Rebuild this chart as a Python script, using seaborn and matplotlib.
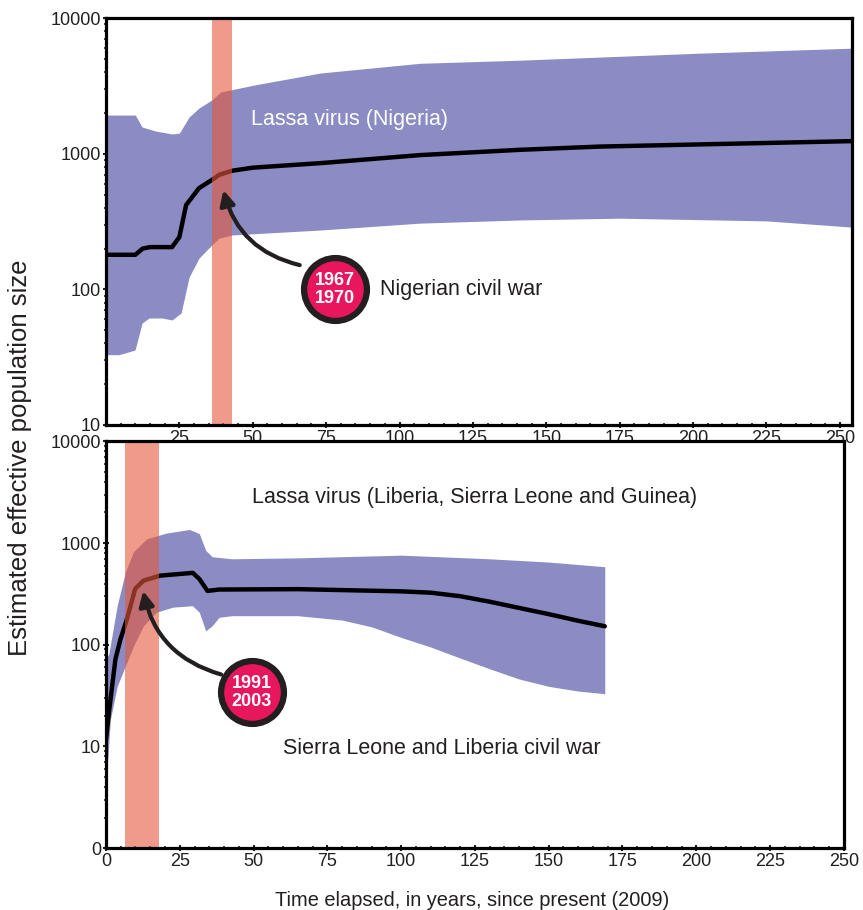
import numpy as np
import pandas as pd
import matplotlib
matplotlib.use("Agg")
import matplotlib.pyplot as plt
from matplotlib.ticker import FixedLocator, MultipleLocator, LogLocator, NullFormatter
import seaborn as sns

# ---- Nigeria (top panel) ----
ng_med_x = [0, 10, 12.5, 15, 22.5, 25, 27.3, 31.7, 36, 38.6, 43, 50, 73, 107, 141, 168, 254]
ng_med_y = [180, 180, 200, 205, 205, 243, 419, 558, 640, 700, 750, 790, 853, 978, 1070, 1130, 1240]
ng_up_x = [0, 10, 12.3, 17, 22.5, 25, 28.3, 31.7, 36, 39, 50, 73, 107, 141, 202, 254]
ng_up_y = [1930, 1930, 1575, 1470, 1400, 1420, 1865, 2175, 2490, 2850, 3200, 3940, 4650, 4900, 5520, 6010]
ng_lo_x = [0, 4.4, 9.9, 12.3, 14.7, 19.1, 22.5, 25.6, 28.3, 31.7, 36, 38.6, 43, 73, 107, 141, 175, 225, 254]
ng_lo_y = [33, 33, 35.7, 56.5, 61.5, 61.5, 59.5, 67, 123, 170, 212, 239, 252, 274, 308, 325, 335, 320, 288]
ng_war = (36, 43)

# ---- Liberia / Sierra Leone / Guinea (bottom panel) ----
ws_med_x = [0, 1, 3.2, 4.9, 7.1, 9.9, 12.7, 18.3, 29.4, 31.6, 34.4, 38.3, 65, 100, 110, 120, 130, 140, 150, 160, 169]
ws_med_y = [11.7, 21.6, 72, 113, 179, 355, 427, 478, 509, 445, 338, 349, 352, 335, 325, 300, 265, 230, 200, 172, 152]
ws_up_x = [0, 1, 3.8, 6.6, 9.3, 13.8, 20.3, 28.3, 31.6, 33.8, 36, 42.6, 65, 100, 130, 150, 169]
ws_up_y = [72, 82, 242, 521, 820, 1100, 1250, 1360, 1240, 845, 733, 700, 715, 760, 700, 650, 585]
ws_lo_x = [0, 1.5, 3.8, 6.6, 9.4, 12.7, 17.1, 22.6, 29.3, 31.6, 33.8, 36, 38.3, 42.6, 65, 80, 90, 100, 110, 120, 130, 140, 150, 160, 169]
ws_lo_y = [4, 18.5, 39, 62, 98, 154, 209, 234, 242, 209, 137, 154, 186, 193, 193, 175, 150, 118, 95, 74, 58, 46, 39, 35, 33]
ws_war = (6.5, 18)

BAND = "#8b8cc4"
WAR = "#e6573a"
DARK = "#231f20"
BADGE = "#e8175d"

sns.set_style("white")
plt.rcParams["font.family"] = ["Liberation Sans", "DejaVu Sans"]

fig = plt.figure(figsize=(8.63, 9.10), dpi=100)
ax1 = fig.add_axes([0.1228, 0.533, 0.864, 0.447])
ax2 = fig.add_axes([0.1228, 0.068, 0.855, 0.447])


def band(ax, xu, yu, xl, yl):
    xs = np.union1d(xu, xl)
    ax.fill_between(xs, np.exp(np.interp(xs, xu, np.log(yu))),
                    np.exp(np.interp(xs, xl, np.log(yl))),
                    color=BAND, lw=0, zorder=1)


def style(ax, xmax, ymin, xticks, yticks, ylabels):
    ax.set_yscale("log")
    ax.set_xlim(0, xmax)
    ax.set_ylim(ymin, 10000)
    ax.xaxis.set_major_locator(FixedLocator(xticks))
    ax.xaxis.set_minor_locator(MultipleLocator(5))
    ax.yaxis.set_major_locator(FixedLocator(yticks))
    ax.yaxis.set_minor_locator(LogLocator(base=10, subs=np.arange(2, 10)))
    ax.yaxis.set_minor_formatter(NullFormatter())
    ax.set_yticklabels(ylabels)
    ax.set_xticklabels([str(t) for t in xticks])
    ax.tick_params(axis="both", which="major", direction="inout", length=5, width=1.5,
                   labelsize=13, colors=DARK, pad=1, left=True, bottom=True)
    ax.tick_params(axis="both", which="minor", direction="inout", length=3, width=1.2,
                   colors=DARK, left=True, bottom=True)
    for s in ax.spines.values():
        s.set_linewidth(2.3)
        s.set_color("black")
        s.set_zorder(6)
    ax.set_xlabel("")
    ax.set_ylabel("")


# top panel
band(ax1, ng_up_x, ng_up_y, ng_lo_x, ng_lo_y)
sns.lineplot(x=ng_med_x, y=ng_med_y, ax=ax1, color="black", lw=3.2, zorder=3)
ax1.axvspan(*ng_war, color=WAR, alpha=0.6, lw=0, zorder=4)
style(ax1, 254, 10, [25, 50, 75, 100, 125, 150, 175, 200, 225, 250],
      [10, 100, 1000, 10000], ["10", "100", "1000", "10000"])
ax1.text(49.5, 1800, "Lassa virus (Nigeria)", color="white", fontsize=15.5, va="center", zorder=5)
ax1.annotate("", xy=(40, 540), xytext=(66, 151),
             arrowprops=dict(arrowstyle="-|>", connectionstyle="arc3,rad=-0.3",
                             color=DARK, lw=3, mutation_scale=22, shrinkA=0, shrinkB=0),
             zorder=5)
ax1.scatter([78], [100], s=2050, color=BADGE, edgecolor=DARK, linewidth=4.5, zorder=7, clip_on=False)
ax1.text(78, 100, "1967\n1970", color="white", fontsize=13, fontweight="bold",
         ha="center", va="center", linespacing=1.1, zorder=8)
ax1.text(93.5, 100, "Nigerian civil war", color=DARK, fontsize=15.5, va="center", zorder=5)

# bottom panel
band(ax2, ws_up_x, ws_up_y, ws_lo_x, ws_lo_y)
sns.lineplot(x=ws_med_x, y=ws_med_y, ax=ax2, color="black", lw=3.2, zorder=3)
ax2.axvspan(*ws_war, color=WAR, alpha=0.6, lw=0, zorder=4)
style(ax2, 250, 1, [0, 25, 50, 75, 100, 125, 150, 175, 200, 225, 250],
      [1, 10, 100, 1000, 10000], ["0", "10", "100", "1000", "10000"])
ax2.text(49.4, 2800, "Lassa virus (Liberia, Sierra Leone and Guinea)", color=DARK,
         fontsize=15.5, va="center", zorder=5)
ax2.annotate("", xy=(12.6, 338), xytext=(39, 51),
             arrowprops=dict(arrowstyle="-|>", connectionstyle="arc3,rad=-0.3",
                             color=DARK, lw=3, mutation_scale=22, shrinkA=0, shrinkB=0),
             zorder=5)
ax2.scatter([49.4], [34], s=2050, color=BADGE, edgecolor=DARK, linewidth=4.5, zorder=7, clip_on=False)
ax2.text(49.4, 34, "1991\n2003", color="white", fontsize=13, fontweight="bold",
         ha="center", va="center", linespacing=1.1, zorder=8)
ax2.text(59.9, 9.5, "Sierra Leone and Liberia civil war", color=DARK, fontsize=15.5,
         va="center", zorder=5)

fig.text(20 / 863, 1 - 458 / 910, "Estimated effective population size", rotation=90,
         ha="center", va="center", fontsize=18.5, color=DARK)
fig.text(472 / 863, 1 - 900 / 910, "Time elapsed, in years, since present (2009)",
         ha="center", va="center", fontsize=14.4, color=DARK)

fig.savefig("out.png", dpi=100)
